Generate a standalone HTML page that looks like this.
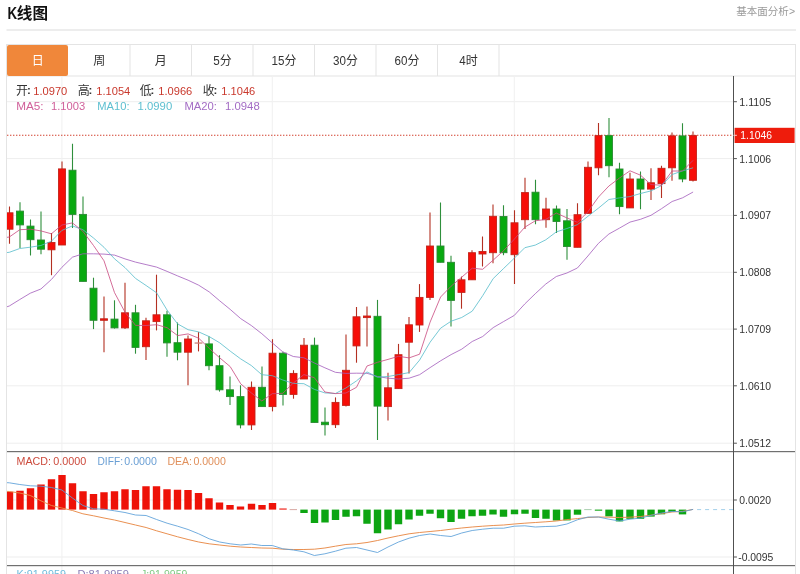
<!DOCTYPE html>
<html><head><meta charset="utf-8"><title>K</title>
<style>
html,body{margin:0;padding:0;background:#fff;}
body{width:800px;height:574px;overflow:hidden;font-family:"Liberation Sans",sans-serif;}
svg{display:block;position:absolute;left:0;top:0;}
svg{will-change:transform;}
text{font-family:"Liberation Sans","Noto Sans CJK SC",sans-serif;}
</style></head><body>
<svg width="800" height="574" viewBox="0 0 800 574">
<defs><clipPath id="cp"><rect x="7" y="77" width="726.5" height="500"/></clipPath></defs>
<rect width="800" height="574" fill="#fff"/>
<text x="7.6" y="19.2" font-size="16.5" fill="#111" textLength="9.6" lengthAdjust="spacingAndGlyphs" font-weight="bold">K</text>
<text x="16.8" y="18.6" font-size="15.6" fill="#111" font-weight="bold">线图</text>
<text x="736.3" y="15.4" font-size="10.5" fill="#999">基本面分析</text>
<text x="789.0" y="15.2" font-size="10.5" fill="#999">&gt;</text>
<rect x="6.5" y="29.5" width="789.5" height="1" fill="#dcdcdc"/>
<rect x="6.5" y="44.5" width="789" height="540" fill="none" stroke="#e4e4e4" stroke-width="1"/>
<rect x="7" y="75.5" width="788" height="1" fill="#e4e4e4"/>
<rect x="7" y="45" width="61.0" height="31" rx="2" ry="2" fill="#f0873a"/>
<text x="31.75" y="64.6" font-size="12" fill="#fff">日</text>
<rect x="129.5" y="45" width="1" height="31" fill="#e4e4e4"/>
<text x="93.25" y="64.6" font-size="12" fill="#333">周</text>
<rect x="191.0" y="45" width="1" height="31" fill="#e4e4e4"/>
<text x="154.75" y="64.6" font-size="12" fill="#333">月</text>
<rect x="252.5" y="45" width="1" height="31" fill="#e4e4e4"/>
<text x="213.33" y="64.6" font-size="12" fill="#333" textLength="6.5" lengthAdjust="spacingAndGlyphs">5</text>
<text x="219.78" y="64.6" font-size="12" fill="#333">分</text>
<rect x="314.0" y="45" width="1" height="31" fill="#e4e4e4"/>
<text x="271.60" y="64.6" font-size="12" fill="#333" textLength="12.9" lengthAdjust="spacingAndGlyphs">15</text>
<text x="284.5" y="64.6" font-size="12" fill="#333">分</text>
<rect x="375.5" y="45" width="1" height="31" fill="#e4e4e4"/>
<text x="333.10" y="64.6" font-size="12" fill="#333" textLength="12.9" lengthAdjust="spacingAndGlyphs">30</text>
<text x="346.0" y="64.6" font-size="12" fill="#333">分</text>
<rect x="437.0" y="45" width="1" height="31" fill="#e4e4e4"/>
<text x="394.60" y="64.6" font-size="12" fill="#333" textLength="12.9" lengthAdjust="spacingAndGlyphs">60</text>
<text x="407.5" y="64.6" font-size="12" fill="#333">分</text>
<rect x="498.5" y="45" width="1" height="31" fill="#e4e4e4"/>
<text x="459.32" y="64.6" font-size="12" fill="#333" textLength="6.5" lengthAdjust="spacingAndGlyphs">4</text>
<text x="465.77" y="64.6" font-size="12" fill="#333">时</text>
<rect x="7" y="101.2" width="726.5" height="1" fill="#eeeeee"/>
<rect x="7" y="158.1" width="726.5" height="1" fill="#eeeeee"/>
<rect x="7" y="214.9" width="726.5" height="1" fill="#eeeeee"/>
<rect x="7" y="271.8" width="726.5" height="1" fill="#eeeeee"/>
<rect x="7" y="328.6" width="726.5" height="1" fill="#eeeeee"/>
<rect x="7" y="385.3" width="726.5" height="1" fill="#eeeeee"/>
<rect x="7" y="442.7" width="726.5" height="1" fill="#eeeeee"/>
<rect x="7" y="499.5" width="726.5" height="1" fill="#eeeeee"/>
<rect x="7" y="556.5" width="726.5" height="1" fill="#eeeeee"/>
<rect x="61.4" y="76" width="1" height="500" fill="#f0f0f0"/>
<rect x="271.8" y="76" width="1" height="500" fill="#f0f0f0"/>
<rect x="513.8" y="76" width="1" height="500" fill="#f0f0f0"/>
<text x="16" y="94.8" font-size="12" fill="#333">开</text>
<text x="26.9" y="94.3" font-size="11.5" fill="#333" font-weight="bold">:</text>
<text x="33.3" y="94.6" font-size="11.5" fill="#c9382c" textLength="34" lengthAdjust="spacingAndGlyphs">1.0970</text>
<text x="77.7" y="94.8" font-size="12" fill="#333">高</text>
<text x="88.6" y="94.3" font-size="11.5" fill="#333" font-weight="bold">:</text>
<text x="96.3" y="94.6" font-size="11.5" fill="#c9382c" textLength="34" lengthAdjust="spacingAndGlyphs">1.1054</text>
<text x="139.7" y="94.8" font-size="12" fill="#333">低</text>
<text x="150.6" y="94.3" font-size="11.5" fill="#333" font-weight="bold">:</text>
<text x="158.3" y="94.6" font-size="11.5" fill="#c9382c" textLength="34" lengthAdjust="spacingAndGlyphs">1.0966</text>
<text x="202.7" y="94.8" font-size="12" fill="#333">收</text>
<text x="213.6" y="94.3" font-size="11.5" fill="#333" font-weight="bold">:</text>
<text x="221.3" y="94.6" font-size="11.5" fill="#c9382c" textLength="34" lengthAdjust="spacingAndGlyphs">1.1046</text>
<text x="16.2" y="110.3" font-size="11.5" fill="#d0609a" textLength="27.4" lengthAdjust="spacingAndGlyphs">MA5:</text>
<text x="51" y="110.3" font-size="11.5" fill="#d0609a" textLength="34.2" lengthAdjust="spacingAndGlyphs">1.1003</text>
<text x="97.3" y="110.3" font-size="11.5" fill="#5dbfd0" textLength="32.2" lengthAdjust="spacingAndGlyphs">MA10:</text>
<text x="137.6" y="110.3" font-size="11.5" fill="#5dbfd0" textLength="34.6" lengthAdjust="spacingAndGlyphs">1.0990</text>
<text x="184.5" y="110.3" font-size="11.5" fill="#a36cc4" textLength="32.5" lengthAdjust="spacingAndGlyphs">MA20:</text>
<text x="225" y="110.3" font-size="11.5" fill="#a36cc4" textLength="34.7" lengthAdjust="spacingAndGlyphs">1.0948</text>
<line x1="7" y1="135.3" x2="733" y2="135.3" stroke="#d2422f" stroke-width="1.1" stroke-dasharray="1.4 1.6"/>
<g clip-path="url(#cp)">
<line x1="9.5" y1="206.6" x2="9.5" y2="243.7" stroke="#b33022" stroke-width="1.1"/>
<rect x="6.0" y="212.8" width="7.0" height="16.4" fill="#f60e08" stroke="#c3241a" stroke-width="0.9"/>
<line x1="20.0" y1="202.3" x2="20.0" y2="248" stroke="#2f8f3c" stroke-width="1.1"/>
<rect x="16.5" y="211.1" width="7.0" height="13.8" fill="#08a910" stroke="#2a8a32" stroke-width="0.9"/>
<line x1="30.5" y1="219.6" x2="30.5" y2="255.5" stroke="#2f8f3c" stroke-width="1.1"/>
<rect x="27.0" y="226.1" width="7.0" height="13.6" fill="#08a910" stroke="#2a8a32" stroke-width="0.9"/>
<line x1="41.0" y1="211.6" x2="41.0" y2="254.3" stroke="#2f8f3c" stroke-width="1.1"/>
<rect x="37.5" y="240" width="7.0" height="9.2" fill="#08a910" stroke="#2a8a32" stroke-width="0.9"/>
<line x1="51.5" y1="233" x2="51.5" y2="275.2" stroke="#b33022" stroke-width="1.1"/>
<rect x="48.0" y="242.5" width="7.0" height="7.3" fill="#f60e08" stroke="#c3241a" stroke-width="0.9"/>
<line x1="62.0" y1="161.4" x2="62.0" y2="245" stroke="#b33022" stroke-width="1.1"/>
<rect x="58.5" y="168.9" width="7.0" height="76.1" fill="#f60e08" stroke="#c3241a" stroke-width="0.9"/>
<line x1="72.5" y1="143.8" x2="72.5" y2="227.9" stroke="#2f8f3c" stroke-width="1.1"/>
<rect x="69.0" y="170.2" width="7.0" height="44.2" fill="#08a910" stroke="#2a8a32" stroke-width="0.9"/>
<line x1="83.0" y1="196.5" x2="83.0" y2="281.4" stroke="#2f8f3c" stroke-width="1.1"/>
<rect x="79.5" y="214.4" width="7.0" height="67.0" fill="#08a910" stroke="#2a8a32" stroke-width="0.9"/>
<line x1="93.5" y1="277.7" x2="93.5" y2="329.1" stroke="#2f8f3c" stroke-width="1.1"/>
<rect x="90.0" y="288.2" width="7.0" height="32.1" fill="#08a910" stroke="#2a8a32" stroke-width="0.9"/>
<line x1="104.0" y1="296.5" x2="104.0" y2="352.2" stroke="#b33022" stroke-width="1.1"/>
<rect x="100.5" y="318.8" width="7.0" height="1.5" fill="#f60e08" stroke="#c3241a" stroke-width="0.9"/>
<line x1="114.5" y1="300.3" x2="114.5" y2="328.6" stroke="#2f8f3c" stroke-width="1.1"/>
<rect x="111.0" y="319.1" width="7.0" height="8.8" fill="#08a910" stroke="#2a8a32" stroke-width="0.9"/>
<line x1="125.0" y1="282.7" x2="125.0" y2="329.1" stroke="#b33022" stroke-width="1.1"/>
<rect x="121.5" y="312.8" width="7.0" height="15.1" fill="#f60e08" stroke="#c3241a" stroke-width="0.9"/>
<line x1="135.5" y1="304.8" x2="135.5" y2="353.7" stroke="#2f8f3c" stroke-width="1.1"/>
<rect x="132.0" y="312.8" width="7.0" height="34.6" fill="#08a910" stroke="#2a8a32" stroke-width="0.9"/>
<line x1="146.0" y1="317.8" x2="146.0" y2="360" stroke="#b33022" stroke-width="1.1"/>
<rect x="142.5" y="320.8" width="7.0" height="25.9" fill="#f60e08" stroke="#c3241a" stroke-width="0.9"/>
<line x1="156.5" y1="274.7" x2="156.5" y2="330.4" stroke="#b33022" stroke-width="1.1"/>
<rect x="153.0" y="314.8" width="7.0" height="6.8" fill="#f60e08" stroke="#c3241a" stroke-width="0.9"/>
<line x1="167.0" y1="310.8" x2="167.0" y2="356.7" stroke="#2f8f3c" stroke-width="1.1"/>
<rect x="163.5" y="314.8" width="7.0" height="28.1" fill="#08a910" stroke="#2a8a32" stroke-width="0.9"/>
<line x1="177.5" y1="322.5" x2="177.5" y2="360.3" stroke="#2f8f3c" stroke-width="1.1"/>
<rect x="174.0" y="342.7" width="7.0" height="9.5" fill="#08a910" stroke="#2a8a32" stroke-width="0.9"/>
<line x1="188.0" y1="335.5" x2="188.0" y2="385.3" stroke="#b33022" stroke-width="1.1"/>
<rect x="184.5" y="339" width="7.0" height="13.2" fill="#f60e08" stroke="#c3241a" stroke-width="0.9"/>
<line x1="198.5" y1="332.1" x2="198.5" y2="351.4" stroke="#b33022" stroke-width="1.1"/>
<rect x="194.6" y="342.40000000000003" width="7.8" height="1.3" fill="#cf8078"/>
<line x1="209.0" y1="336.3" x2="209.0" y2="370.2" stroke="#2f8f3c" stroke-width="1.1"/>
<rect x="205.5" y="343.9" width="7.0" height="21.8" fill="#08a910" stroke="#2a8a32" stroke-width="0.9"/>
<line x1="219.5" y1="355.2" x2="219.5" y2="391.6" stroke="#2f8f3c" stroke-width="1.1"/>
<rect x="216.0" y="365.7" width="7.0" height="24.1" fill="#08a910" stroke="#2a8a32" stroke-width="0.9"/>
<line x1="230.0" y1="376.5" x2="230.0" y2="404.9" stroke="#2f8f3c" stroke-width="1.1"/>
<rect x="226.5" y="389.8" width="7.0" height="6.8" fill="#08a910" stroke="#2a8a32" stroke-width="0.9"/>
<line x1="240.5" y1="385.3" x2="240.5" y2="428.4" stroke="#2f8f3c" stroke-width="1.1"/>
<rect x="237.0" y="396.6" width="7.0" height="28.3" fill="#08a910" stroke="#2a8a32" stroke-width="0.9"/>
<line x1="251.5" y1="381.5" x2="251.5" y2="430" stroke="#b33022" stroke-width="1.1"/>
<rect x="248.0" y="387.3" width="7.0" height="37.6" fill="#f60e08" stroke="#c3241a" stroke-width="0.9"/>
<line x1="262.0" y1="366.5" x2="262.0" y2="406.6" stroke="#2f8f3c" stroke-width="1.1"/>
<rect x="258.5" y="387.3" width="7.0" height="19.3" fill="#08a910" stroke="#2a8a32" stroke-width="0.9"/>
<line x1="272.5" y1="339.2" x2="272.5" y2="411.4" stroke="#b33022" stroke-width="1.1"/>
<rect x="269.0" y="353.2" width="7.0" height="53.4" fill="#f60e08" stroke="#c3241a" stroke-width="0.9"/>
<line x1="283.0" y1="351.8" x2="283.0" y2="405.4" stroke="#2f8f3c" stroke-width="1.1"/>
<rect x="279.5" y="353.2" width="7.0" height="41.2" fill="#08a910" stroke="#2a8a32" stroke-width="0.9"/>
<line x1="293.5" y1="370.2" x2="293.5" y2="398.7" stroke="#b33022" stroke-width="1.1"/>
<rect x="290.0" y="373.4" width="7.0" height="21.0" fill="#f60e08" stroke="#c3241a" stroke-width="0.9"/>
<line x1="304.0" y1="338.1" x2="304.0" y2="379" stroke="#b33022" stroke-width="1.1"/>
<rect x="300.5" y="345.2" width="7.0" height="33.8" fill="#f60e08" stroke="#c3241a" stroke-width="0.9"/>
<line x1="314.5" y1="337.6" x2="314.5" y2="422.5" stroke="#2f8f3c" stroke-width="1.1"/>
<rect x="311.0" y="345.2" width="7.0" height="77.3" fill="#08a910" stroke="#2a8a32" stroke-width="0.9"/>
<line x1="325.0" y1="407.4" x2="325.0" y2="435.5" stroke="#2f8f3c" stroke-width="1.1"/>
<rect x="321.5" y="422.2" width="7.0" height="2.5" fill="#08a910" stroke="#2a8a32" stroke-width="0.9"/>
<line x1="335.5" y1="397.4" x2="335.5" y2="428" stroke="#b33022" stroke-width="1.1"/>
<rect x="332.0" y="402.4" width="7.0" height="22.3" fill="#f60e08" stroke="#c3241a" stroke-width="0.9"/>
<line x1="346.0" y1="334.6" x2="346.0" y2="406.6" stroke="#b33022" stroke-width="1.1"/>
<rect x="342.5" y="370.3" width="7.0" height="35.1" fill="#f60e08" stroke="#c3241a" stroke-width="0.9"/>
<line x1="356.5" y1="307" x2="356.5" y2="362.7" stroke="#b33022" stroke-width="1.1"/>
<rect x="353.0" y="316.8" width="7.0" height="29.1" fill="#f60e08" stroke="#c3241a" stroke-width="0.9"/>
<line x1="367.0" y1="306.5" x2="367.0" y2="346.4" stroke="#b33022" stroke-width="1.1"/>
<rect x="363.5" y="316" width="7.0" height="1.6" fill="#f60e08" stroke="#c3241a" stroke-width="0.9"/>
<line x1="377.5" y1="299.9" x2="377.5" y2="440" stroke="#2f8f3c" stroke-width="1.1"/>
<rect x="374.0" y="316.3" width="7.0" height="89.8" fill="#08a910" stroke="#2a8a32" stroke-width="0.9"/>
<line x1="388.0" y1="372.8" x2="388.0" y2="420.5" stroke="#b33022" stroke-width="1.1"/>
<rect x="384.5" y="387.8" width="7.0" height="18.8" fill="#f60e08" stroke="#c3241a" stroke-width="0.9"/>
<line x1="398.5" y1="343.9" x2="398.5" y2="388.6" stroke="#b33022" stroke-width="1.1"/>
<rect x="395.0" y="354.7" width="7.0" height="33.9" fill="#f60e08" stroke="#c3241a" stroke-width="0.9"/>
<line x1="409.0" y1="316.9" x2="409.0" y2="373.5" stroke="#b33022" stroke-width="1.1"/>
<rect x="405.5" y="324.8" width="7.0" height="17.4" fill="#f60e08" stroke="#c3241a" stroke-width="0.9"/>
<line x1="419.5" y1="284.1" x2="419.5" y2="331.9" stroke="#b33022" stroke-width="1.1"/>
<rect x="416.0" y="297.4" width="7.0" height="27.6" fill="#f60e08" stroke="#c3241a" stroke-width="0.9"/>
<line x1="430.0" y1="212.6" x2="430.0" y2="299.9" stroke="#b33022" stroke-width="1.1"/>
<rect x="426.5" y="246" width="7.0" height="51.4" fill="#f60e08" stroke="#c3241a" stroke-width="0.9"/>
<line x1="440.5" y1="202.5" x2="440.5" y2="262.3" stroke="#2f8f3c" stroke-width="1.1"/>
<rect x="437.0" y="246" width="7.0" height="16.3" fill="#08a910" stroke="#2a8a32" stroke-width="0.9"/>
<line x1="451.0" y1="255.7" x2="451.0" y2="326.6" stroke="#2f8f3c" stroke-width="1.1"/>
<rect x="447.5" y="262.3" width="7.0" height="38.1" fill="#08a910" stroke="#2a8a32" stroke-width="0.9"/>
<line x1="461.5" y1="276.6" x2="461.5" y2="308.7" stroke="#b33022" stroke-width="1.1"/>
<rect x="458.0" y="279.8" width="7.0" height="12.6" fill="#f60e08" stroke="#c3241a" stroke-width="0.9"/>
<line x1="472.0" y1="250.2" x2="472.0" y2="279.8" stroke="#b33022" stroke-width="1.1"/>
<rect x="468.5" y="252.7" width="7.0" height="27.1" fill="#f60e08" stroke="#c3241a" stroke-width="0.9"/>
<line x1="482.5" y1="236.4" x2="482.5" y2="266.5" stroke="#b33022" stroke-width="1.1"/>
<rect x="479.0" y="251.5" width="7.0" height="2.5" fill="#f60e08" stroke="#c3241a" stroke-width="0.9"/>
<line x1="493.0" y1="204.6" x2="493.0" y2="263.3" stroke="#b33022" stroke-width="1.1"/>
<rect x="489.5" y="216.3" width="7.0" height="36.4" fill="#f60e08" stroke="#c3241a" stroke-width="0.9"/>
<line x1="503.5" y1="205.2" x2="503.5" y2="255.2" stroke="#2f8f3c" stroke-width="1.1"/>
<rect x="500.0" y="216.5" width="7.0" height="36.2" fill="#08a910" stroke="#2a8a32" stroke-width="0.9"/>
<line x1="514.5" y1="210.2" x2="514.5" y2="284.1" stroke="#b33022" stroke-width="1.1"/>
<rect x="511.0" y="222.8" width="7.0" height="31.9" fill="#f60e08" stroke="#c3241a" stroke-width="0.9"/>
<line x1="525.0" y1="177.8" x2="525.0" y2="229" stroke="#b33022" stroke-width="1.1"/>
<rect x="521.5" y="192.6" width="7.0" height="27.1" fill="#f60e08" stroke="#c3241a" stroke-width="0.9"/>
<line x1="535.5" y1="179.8" x2="535.5" y2="224.3" stroke="#2f8f3c" stroke-width="1.1"/>
<rect x="532.0" y="192.2" width="7.0" height="27.5" fill="#08a910" stroke="#2a8a32" stroke-width="0.9"/>
<line x1="546.0" y1="197.7" x2="546.0" y2="227.8" stroke="#b33022" stroke-width="1.1"/>
<rect x="542.5" y="209" width="7.0" height="10.7" fill="#f60e08" stroke="#c3241a" stroke-width="0.9"/>
<line x1="556.5" y1="205.5" x2="556.5" y2="233" stroke="#2f8f3c" stroke-width="1.1"/>
<rect x="553.0" y="209" width="7.0" height="12.5" fill="#08a910" stroke="#2a8a32" stroke-width="0.9"/>
<line x1="567.0" y1="209" x2="567.0" y2="259.8" stroke="#2f8f3c" stroke-width="1.1"/>
<rect x="563.5" y="220.8" width="7.0" height="25.7" fill="#08a910" stroke="#2a8a32" stroke-width="0.9"/>
<line x1="577.5" y1="203.2" x2="577.5" y2="247.3" stroke="#b33022" stroke-width="1.1"/>
<rect x="574.0" y="214.7" width="7.0" height="32.6" fill="#f60e08" stroke="#c3241a" stroke-width="0.9"/>
<line x1="588.0" y1="161.5" x2="588.0" y2="213.4" stroke="#b33022" stroke-width="1.1"/>
<rect x="584.5" y="167.3" width="7.0" height="46.1" fill="#f60e08" stroke="#c3241a" stroke-width="0.9"/>
<line x1="598.5" y1="123.1" x2="598.5" y2="175.3" stroke="#b33022" stroke-width="1.1"/>
<rect x="595.0" y="135.6" width="7.0" height="32.2" fill="#f60e08" stroke="#c3241a" stroke-width="0.9"/>
<line x1="609.0" y1="118.1" x2="609.0" y2="177.3" stroke="#2f8f3c" stroke-width="1.1"/>
<rect x="605.5" y="135.6" width="7.0" height="30.1" fill="#08a910" stroke="#2a8a32" stroke-width="0.9"/>
<line x1="619.5" y1="162.7" x2="619.5" y2="214.2" stroke="#2f8f3c" stroke-width="1.1"/>
<rect x="616.0" y="169" width="7.0" height="37.6" fill="#08a910" stroke="#2a8a32" stroke-width="0.9"/>
<line x1="630.0" y1="172.8" x2="630.0" y2="207.9" stroke="#b33022" stroke-width="1.1"/>
<rect x="626.5" y="179" width="7.0" height="28.9" fill="#f60e08" stroke="#c3241a" stroke-width="0.9"/>
<line x1="640.5" y1="171.5" x2="640.5" y2="209.2" stroke="#2f8f3c" stroke-width="1.1"/>
<rect x="637.0" y="179" width="7.0" height="10.1" fill="#08a910" stroke="#2a8a32" stroke-width="0.9"/>
<line x1="651.0" y1="168.3" x2="651.0" y2="199.9" stroke="#b33022" stroke-width="1.1"/>
<rect x="647.5" y="182.8" width="7.0" height="6.3" fill="#f60e08" stroke="#c3241a" stroke-width="0.9"/>
<line x1="661.5" y1="165.7" x2="661.5" y2="197.9" stroke="#b33022" stroke-width="1.1"/>
<rect x="658.0" y="168.3" width="7.0" height="15.3" fill="#f60e08" stroke="#c3241a" stroke-width="0.9"/>
<line x1="672.0" y1="132.6" x2="672.0" y2="180.8" stroke="#b33022" stroke-width="1.1"/>
<rect x="668.5" y="135.9" width="7.0" height="31.9" fill="#f60e08" stroke="#c3241a" stroke-width="0.9"/>
<line x1="682.5" y1="123.3" x2="682.5" y2="182.3" stroke="#2f8f3c" stroke-width="1.1"/>
<rect x="679.0" y="135.9" width="7.0" height="43.1" fill="#08a910" stroke="#2a8a32" stroke-width="0.9"/>
<line x1="693.0" y1="131.4" x2="693.0" y2="181.5" stroke="#b33022" stroke-width="1.1"/>
<rect x="689.5" y="135.6" width="7.0" height="44.7" fill="#f60e08" stroke="#c3241a" stroke-width="0.9"/>
<polyline points="-1.2,309.5 9.3,306.0 19.8,299.5 30.3,293.2 40.9,289.0 51.4,279.5 61.9,267.3 72.4,257.2 82.9,253.8 93.5,253.8 104.0,254.1 114.5,255.1 125.0,258.9 135.5,262.1 146.1,264.6 156.6,267.1 167.1,271.4 177.6,275.9 188.1,280.2 198.7,285.2 209.2,291.9 219.7,300.8 230.2,309.4 240.7,318.6 251.3,325.5 261.8,333.7 272.3,342.9 282.8,351.9 293.3,356.5 303.9,357.8 314.4,363.0 324.9,367.8 335.4,372.3 345.9,373.4 356.5,373.2 367.0,373.3 377.5,376.5 388.0,378.2 398.5,379.0 409.1,378.2 419.6,374.7 430.1,367.6 440.6,360.8 451.1,354.6 461.7,349.2 472.2,341.5 482.7,336.5 493.2,327.6 503.7,321.5 514.3,315.4 524.8,303.9 535.3,293.7 545.8,284.0 556.3,276.5 566.9,273.0 577.4,268.0 587.9,256.0 598.4,243.4 608.9,234.0 619.5,228.1 630.0,222.1 640.5,219.3 651.0,215.3 661.5,208.7 672.1,201.5 682.6,197.8 693.1,192.0" fill="none" stroke="#a35cbc" stroke-width="1.0" stroke-opacity="0.8" stroke-linejoin="round"/>
<polyline points="-1.2,253.4 9.3,252.3 19.8,248.5 30.3,247.2 40.9,245.5 51.4,241.2 61.9,230.4 72.4,225.9 82.9,229.7 93.5,238.0 104.0,247.3 114.5,258.8 125.0,267.6 135.5,278.4 146.1,285.5 156.6,292.8 167.1,310.1 177.6,323.9 188.1,329.7 198.7,331.9 209.2,336.6 219.7,342.8 230.2,351.1 240.7,358.9 251.3,365.5 261.8,374.7 272.3,375.7 282.8,380.0 293.3,383.4 303.9,383.7 314.4,389.4 324.9,392.9 335.4,393.5 345.9,388.0 356.5,380.9 367.0,371.9 377.5,377.2 388.0,376.5 398.5,374.6 409.1,372.6 419.6,360.1 430.1,342.2 440.6,328.2 451.1,321.2 461.7,317.5 472.2,311.2 482.7,295.7 493.2,278.6 503.7,268.4 514.3,258.2 524.8,247.7 535.3,245.1 545.8,239.8 556.3,231.9 566.9,228.5 577.4,224.7 587.9,216.3 598.4,208.2 608.9,199.5 619.5,197.9 630.0,196.6 640.5,193.5 651.0,190.9 661.5,185.6 672.1,174.5 682.6,170.9 693.1,167.8" fill="none" stroke="#55bccb" stroke-width="1.0" stroke-opacity="0.8" stroke-linejoin="round"/>
<polyline points="-1.2,238.5 9.3,237.0 19.8,229.7 30.3,229.2 40.9,230.9 51.4,233.8 61.9,225.0 72.4,222.9 82.9,231.3 93.5,245.5 104.0,260.8 114.5,292.6 125.0,312.2 135.5,325.4 146.1,325.5 156.6,324.7 167.1,327.7 177.6,335.6 188.1,333.9 198.7,338.2 209.2,348.4 219.7,357.8 230.2,366.6 240.7,383.8 251.3,392.9 261.8,401.0 272.3,393.7 282.8,393.3 293.3,383.0 303.9,374.6 314.4,377.7 324.9,392.0 335.4,393.6 345.9,393.0 356.5,387.3 367.0,366.0 377.5,362.3 388.0,359.4 398.5,356.3 409.1,357.9 419.6,354.2 430.1,322.1 440.6,297.0 451.1,286.2 461.7,277.2 472.2,268.2 482.7,269.3 493.2,260.1 503.7,250.6 514.3,239.2 524.8,227.2 535.3,220.8 545.8,219.4 556.3,213.1 566.9,217.9 577.4,222.3 587.9,211.8 598.4,197.1 608.9,186.0 619.5,178.0 630.0,170.8 640.5,175.2 651.0,184.6 661.5,185.2 672.1,171.0 682.6,171.0 693.1,160.3" fill="none" stroke="#c94a80" stroke-width="1.0" stroke-opacity="0.8" stroke-linejoin="round"/>
<line x1="697.1" y1="509.6" x2="733" y2="509.6" stroke="#a4d0ea" stroke-width="1" stroke-dasharray="4 4"/>
<rect x="289.6" y="509.1" width="7.4" height="1" fill="#d9a9a4"/>
<rect x="584.2" y="509.1" width="7.4" height="1" fill="#a9cfae"/>
<rect x="5.8" y="491.75" width="7.4" height="17.85" fill="#ee1208"/>
<rect x="16.3" y="490.75" width="7.4" height="18.85" fill="#ee1208"/>
<rect x="26.8" y="488.25" width="7.4" height="21.35" fill="#ee1208"/>
<rect x="37.3" y="484.5" width="7.4" height="25.10" fill="#ee1208"/>
<rect x="47.8" y="479.25" width="7.4" height="30.35" fill="#ee1208"/>
<rect x="58.3" y="475" width="7.4" height="34.60" fill="#ee1208"/>
<rect x="68.8" y="483.25" width="7.4" height="26.35" fill="#ee1208"/>
<rect x="79.3" y="491.25" width="7.4" height="18.35" fill="#ee1208"/>
<rect x="89.8" y="494" width="7.4" height="15.60" fill="#ee1208"/>
<rect x="100.3" y="492.25" width="7.4" height="17.35" fill="#ee1208"/>
<rect x="110.8" y="491.25" width="7.4" height="18.35" fill="#ee1208"/>
<rect x="121.3" y="489.25" width="7.4" height="20.35" fill="#ee1208"/>
<rect x="131.8" y="490" width="7.4" height="19.60" fill="#ee1208"/>
<rect x="142.3" y="486.25" width="7.4" height="23.35" fill="#ee1208"/>
<rect x="152.8" y="486.25" width="7.4" height="23.35" fill="#ee1208"/>
<rect x="163.3" y="489.25" width="7.4" height="20.35" fill="#ee1208"/>
<rect x="173.8" y="489.75" width="7.4" height="19.85" fill="#ee1208"/>
<rect x="184.3" y="490" width="7.4" height="19.60" fill="#ee1208"/>
<rect x="194.8" y="493" width="7.4" height="16.60" fill="#ee1208"/>
<rect x="205.3" y="498.25" width="7.4" height="11.35" fill="#ee1208"/>
<rect x="215.8" y="502.5" width="7.4" height="7.10" fill="#ee1208"/>
<rect x="226.3" y="505" width="7.4" height="4.60" fill="#ee1208"/>
<rect x="236.8" y="506.5" width="7.4" height="3.10" fill="#ee1208"/>
<rect x="247.8" y="503.75" width="7.4" height="5.85" fill="#ee1208"/>
<rect x="258.3" y="505" width="7.4" height="4.60" fill="#ee1208"/>
<rect x="268.8" y="503" width="7.4" height="6.60" fill="#ee1208"/>
<rect x="279.3" y="508.5" width="7.4" height="1.10" fill="#ee1208"/>
<rect x="300.3" y="509.6" width="7.4" height="3.40" fill="#0da512"/>
<rect x="310.8" y="509.6" width="7.4" height="13.40" fill="#0da512"/>
<rect x="321.3" y="509.6" width="7.4" height="12.90" fill="#0da512"/>
<rect x="331.8" y="509.6" width="7.4" height="10.40" fill="#0da512"/>
<rect x="342.3" y="509.6" width="7.4" height="7.15" fill="#0da512"/>
<rect x="352.8" y="509.6" width="7.4" height="6.65" fill="#0da512"/>
<rect x="363.3" y="509.6" width="7.4" height="14.15" fill="#0da512"/>
<rect x="373.8" y="509.6" width="7.4" height="23.65" fill="#0da512"/>
<rect x="384.3" y="509.6" width="7.4" height="19.90" fill="#0da512"/>
<rect x="394.8" y="509.6" width="7.4" height="14.65" fill="#0da512"/>
<rect x="405.3" y="509.6" width="7.4" height="9.90" fill="#0da512"/>
<rect x="415.8" y="509.6" width="7.4" height="6.15" fill="#0da512"/>
<rect x="426.3" y="509.6" width="7.4" height="4.15" fill="#0da512"/>
<rect x="436.8" y="509.6" width="7.4" height="8.65" fill="#0da512"/>
<rect x="447.3" y="509.6" width="7.4" height="12.40" fill="#0da512"/>
<rect x="457.8" y="509.6" width="7.4" height="9.15" fill="#0da512"/>
<rect x="468.3" y="509.6" width="7.4" height="6.65" fill="#0da512"/>
<rect x="478.8" y="509.6" width="7.4" height="6.15" fill="#0da512"/>
<rect x="489.3" y="509.6" width="7.4" height="4.90" fill="#0da512"/>
<rect x="499.8" y="509.6" width="7.4" height="7.15" fill="#0da512"/>
<rect x="510.8" y="509.6" width="7.4" height="4.65" fill="#0da512"/>
<rect x="521.3" y="509.6" width="7.4" height="4.15" fill="#0da512"/>
<rect x="531.8" y="509.6" width="7.4" height="8.40" fill="#0da512"/>
<rect x="542.3" y="509.6" width="7.4" height="9.15" fill="#0da512"/>
<rect x="552.8" y="509.6" width="7.4" height="10.90" fill="#0da512"/>
<rect x="563.3" y="509.6" width="7.4" height="10.80" fill="#0da512"/>
<rect x="573.8" y="509.6" width="7.4" height="5.10" fill="#0da512"/>
<rect x="594.8" y="509.6" width="7.4" height="1.10" fill="#0da512"/>
<rect x="605.3" y="509.6" width="7.4" height="6.80" fill="#0da512"/>
<rect x="615.8" y="509.6" width="7.4" height="11.80" fill="#0da512"/>
<rect x="626.3" y="509.6" width="7.4" height="9.20" fill="#0da512"/>
<rect x="636.8" y="509.6" width="7.4" height="9.20" fill="#0da512"/>
<rect x="647.3" y="509.6" width="7.4" height="7.00" fill="#0da512"/>
<rect x="657.8" y="509.6" width="7.4" height="4.70" fill="#0da512"/>
<rect x="668.3" y="509.6" width="7.4" height="2.20" fill="#0da512"/>
<rect x="678.8" y="509.6" width="7.4" height="4.80" fill="#0da512"/>
<polyline points="-1.2,491.1 9.3,491.5 19.8,493.0 30.3,495.5 40.9,500.8 51.4,505.5 61.9,508.0 72.4,510.5 82.9,513.8 93.5,515.8 104.0,518.0 114.5,520.0 125.0,522.5 135.5,525.0 146.1,527.5 156.6,530.8 167.1,533.8 177.6,536.8 188.1,539.5 198.7,542.0 209.2,543.8 219.7,545.0 230.2,546.2 240.7,547.0 251.3,547.5 261.8,548.0 272.3,548.2 282.8,549.2 293.3,549.5 303.9,549.5 314.4,549.2 324.9,548.0 335.4,546.2 345.9,544.5 356.5,543.8 367.0,542.5 377.5,540.5 388.0,538.0 398.5,535.8 409.1,533.8 419.6,532.5 430.1,531.5 440.6,530.5 451.1,529.2 461.7,528.0 472.2,527.0 482.7,526.2 493.2,525.5 503.7,525.0 514.3,524.0 524.8,523.2 535.3,522.5 545.8,521.8 556.3,521.0 566.9,519.6 577.4,518.6 587.9,517.5 598.4,517.0 608.9,517.2 619.5,517.5 630.0,517.2 640.5,516.5 651.0,515.2 661.5,513.6 672.1,512.0 682.6,511.4 693.1,509.4" fill="none" stroke="#e88a48" stroke-width="1.0" stroke-opacity="0.95" stroke-linejoin="round"/>
<polyline points="-1.2,482.3 9.3,482.8 19.8,484.5 30.3,485.8 40.9,486.2 51.4,487.5 61.9,490.0 72.4,498.0 82.9,505.5 93.5,508.8 104.0,509.2 114.5,510.8 125.0,512.5 135.5,515.0 146.1,515.5 156.6,519.5 167.1,523.2 177.6,526.2 188.1,529.5 198.7,533.8 209.2,538.8 219.7,542.0 230.2,543.8 240.7,545.0 251.3,544.0 261.8,545.5 272.3,545.5 282.8,548.8 293.3,550.0 303.9,551.8 314.4,555.5 324.9,553.8 335.4,551.2 345.9,548.2 356.5,547.5 367.0,550.0 377.5,552.5 388.0,547.0 398.5,542.0 409.1,538.2 419.6,535.5 430.1,534.0 440.6,535.5 451.1,536.5 461.7,533.0 472.2,530.5 482.7,529.2 493.2,528.2 503.7,528.2 514.3,526.2 524.8,525.8 535.3,527.0 545.8,526.5 556.3,526.2 566.9,524.0 577.4,519.8 587.9,517.0 598.4,517.0 608.9,519.2 619.5,521.0 630.0,519.2 640.5,518.1 651.0,515.4 661.5,513.0 672.1,511.4 682.6,511.8 693.1,509.4" fill="none" stroke="#5b9fd8" stroke-width="1.0" stroke-opacity="0.85" stroke-linejoin="round"/>
</g>
<rect x="7" y="451" width="788" height="1.2" fill="#707070"/>
<rect x="7" y="565" width="788" height="1.2" fill="#707070"/>
<rect x="733" y="76" width="1" height="500" fill="#505050"/>
<rect x="733.5" y="101.2" width="3.4" height="1" fill="#555"/>
<text x="739.3" y="105.7" font-size="11" fill="#333" textLength="31.8" lengthAdjust="spacingAndGlyphs">1.1105</text>
<rect x="733.5" y="158.1" width="3.4" height="1" fill="#555"/>
<text x="739.3" y="162.6" font-size="11" fill="#333" textLength="31.8" lengthAdjust="spacingAndGlyphs">1.1006</text>
<rect x="733.5" y="214.9" width="3.4" height="1" fill="#555"/>
<text x="739.3" y="219.4" font-size="11" fill="#333" textLength="31.8" lengthAdjust="spacingAndGlyphs">1.0907</text>
<rect x="733.5" y="271.8" width="3.4" height="1" fill="#555"/>
<text x="739.3" y="276.3" font-size="11" fill="#333" textLength="31.8" lengthAdjust="spacingAndGlyphs">1.0808</text>
<rect x="733.5" y="328.6" width="3.4" height="1" fill="#555"/>
<text x="739.3" y="333.1" font-size="11" fill="#333" textLength="31.8" lengthAdjust="spacingAndGlyphs">1.0709</text>
<rect x="733.5" y="385.3" width="3.4" height="1" fill="#555"/>
<text x="739.3" y="389.8" font-size="11" fill="#333" textLength="31.8" lengthAdjust="spacingAndGlyphs">1.0610</text>
<rect x="733.5" y="442.7" width="3.4" height="1" fill="#555"/>
<text x="739.3" y="447.2" font-size="11" fill="#333" textLength="31.8" lengthAdjust="spacingAndGlyphs">1.0512</text>
<rect x="733.5" y="499.5" width="3.4" height="1" fill="#555"/>
<text x="739.3" y="504.0" font-size="11" fill="#333" textLength="31.8" lengthAdjust="spacingAndGlyphs">0.0020</text>
<rect x="733.5" y="556.5" width="3.4" height="1" fill="#555"/>
<text x="738.2" y="561" font-size="11" fill="#333" textLength="35.2" lengthAdjust="spacingAndGlyphs">-0.0095</text>
<rect x="734.6" y="127.8" width="60" height="15.2" fill="#ee1c0c"/>
<rect x="733.5" y="134.8" width="3.4" height="1" fill="#fbd0cc"/>
<text x="740.3" y="139.4" font-size="11" fill="#fff" textLength="31.6" lengthAdjust="spacingAndGlyphs">1.1046</text>
<text x="16.5" y="465.4" font-size="11.5" fill="#cc4a3c" textLength="34.5" lengthAdjust="spacingAndGlyphs">MACD:</text>
<text x="53.2" y="465.4" font-size="11.5" fill="#cc4a3c" textLength="33" lengthAdjust="spacingAndGlyphs">0.0000</text>
<text x="97.5" y="465.4" font-size="11.5" fill="#6a9fd4" textLength="25.5" lengthAdjust="spacingAndGlyphs">DIFF:</text>
<text x="124.3" y="465.4" font-size="11.5" fill="#6a9fd4" textLength="32.5" lengthAdjust="spacingAndGlyphs">0.0000</text>
<text x="167.4" y="465.4" font-size="11.5" fill="#e0905c" textLength="24.6" lengthAdjust="spacingAndGlyphs">DEA:</text>
<text x="193.4" y="465.4" font-size="11.5" fill="#e0905c" textLength="32.4" lengthAdjust="spacingAndGlyphs">0.0000</text>
<text x="16.5" y="578.4" font-size="11.5" fill="#6ebbdc" textLength="49.5" lengthAdjust="spacingAndGlyphs">K:91.9959</text>
<text x="77.4" y="578.4" font-size="11.5" fill="#8c7fb8" textLength="51.6" lengthAdjust="spacingAndGlyphs">D:81.9959</text>
<text x="141" y="578.4" font-size="11.5" fill="#7fca83" textLength="46.5" lengthAdjust="spacingAndGlyphs">J:91.9959</text>
</svg></body></html>
